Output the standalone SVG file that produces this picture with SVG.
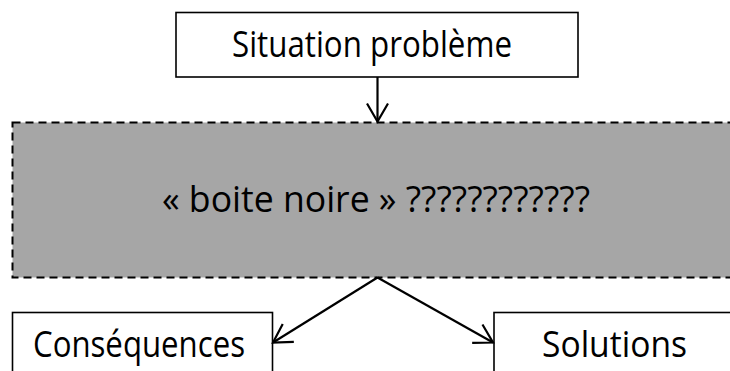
<svg xmlns="http://www.w3.org/2000/svg" width="730" height="371" viewBox="0 0 730 371">
  <style>
    .box { fill: #ffffff; stroke: #000000; stroke-width: 1.6; }
    .black { fill: #a6a6a6; stroke: #000000; stroke-width: 2; stroke-dasharray: 8 5; }
    .lbl { font-family: "Open Sans", "Noto Sans", "Liberation Sans", sans-serif; font-size: 37px; fill: #000000; }
    .conn { stroke: #000000; stroke-width: 2.2; fill: none; marker-end: url(#arr); }
  </style>
  <defs>
    <marker id="arr" markerUnits="userSpaceOnUse" viewBox="-22 -12 24 24" markerWidth="24" markerHeight="24" refX="0" refY="0" orient="auto" overflow="visible">
      <path d="M -18 -10.5 L 0 0 L -18 10.5" fill="none" stroke="#000000" stroke-width="2.2" stroke-linejoin="miter"/>
    </marker>
  </defs>
  <rect width="730" height="371" fill="#ffffff"/>
  <g id="situation">
    <rect class="box" x="176" y="12.5" width="402" height="64.5"/>
    <text class="lbl" x="232" y="57" textLength="280" lengthAdjust="spacingAndGlyphs">Situation problème</text>
  </g>
  <g id="boite-noire">
    <rect class="black" x="12.5" y="122.5" width="725" height="155"/>
    <text class="lbl" x="162" y="212" textLength="428" lengthAdjust="spacingAndGlyphs">« boite noire » ????????????</text>
  </g>
  <g id="consequences">
    <rect class="box" x="12.5" y="312.5" width="260" height="80"/>
    <text class="lbl" x="33" y="357" textLength="212" lengthAdjust="spacingAndGlyphs">Conséquences</text>
  </g>
  <g id="solutions">
    <rect class="box" x="494" y="312.5" width="260" height="80"/>
    <text class="lbl" x="542" y="357" textLength="145" lengthAdjust="spacingAndGlyphs">Solutions</text>
  </g>
  <g id="connectors">
    <line class="conn" x1="377.5" y1="77" x2="377.5" y2="121.5"/>
    <line class="conn" x1="377.5" y1="277.5" x2="273" y2="342.5"/>
    <line class="conn" x1="377.5" y1="277.5" x2="493" y2="342.5"/>
  </g>
</svg>
